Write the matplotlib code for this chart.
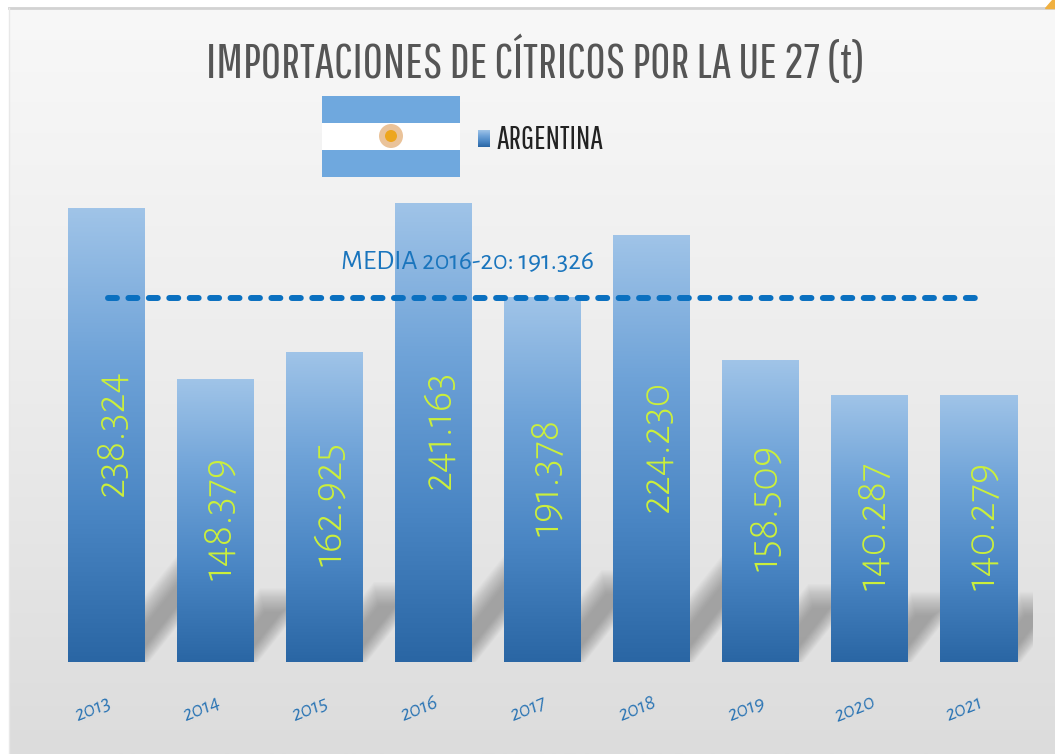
import numpy as np
import matplotlib
matplotlib.use("Agg")
import matplotlib.pyplot as plt
from matplotlib.colors import LinearSegmentedColormap
from matplotlib.patches import Polygon, Rectangle, Circle
from matplotlib.transforms import ScaledTranslation

years = ['2013', '2014', '2015', '2016', '2017', '2018', '2019', '2020', '2021']
values = [238324, 148379, 162925, 241163, 191378, 224230, 158509, 140287, 140279]
labels = ['238.324', '148.379', '162.925', '241.163', '191.378', '224.230', '158.509', '140.287', '140.279']
media = 191326
media_label = 'MEDIA 2016-20: 191.326'
title = 'IMPORTACIONES DE CÍTRICOS POR LA UE 27 (t)'
serie = 'ARGENTINA'

W, H = 1055, 754
fuente = ['Alegreya Sans', 'Lato', 'DejaVu Sans']
estrecha = ['Pathway Gothic One', 'Fira Sans Extra Condensed', 'Alegreya Sans', 'Lato', 'DejaVu Sans']

fig = plt.figure(figsize=(W / 100, H / 100), dpi=100, facecolor='white')

# whole figure in pixel coords, for the backdrop, flag and legend
bg = fig.add_axes([0, 0, 1, 1], zorder=0)
bg.axis('off')
grad = np.linspace(0, 1, 256).reshape(-1, 1)
bg_cmap = LinearSegmentedColormap.from_list('bg', ['#f8f8f8', '#ececec', '#dcdcdc'])
bg.imshow(grad, extent=[9, W, H, 8], cmap=bg_cmap, aspect='auto', zorder=0)
bg.plot([9, W], [8, 8], color='#d2d2d2', lw=2, zorder=1)
bg.plot([9, 9], [8, H], color='#e8e8e8', lw=1, zorder=1)
bg.add_patch(Polygon([[1045, 8], [W, 8], [W, 0], [1052, 0]], color='#f0b040', zorder=1))
bg.set_xlim(0, W)
bg.set_ylim(H, 0)

# chart axes: 0 sits at y=662 px, one category is 109 px
px_per_t = 454 / 238324
top_val = 260000
ax_h = top_val * px_per_t
ax = fig.add_axes([52 / W, (H - 662) / H, 981 / W, ax_h / H], zorder=1)
ax.patch.set_alpha(0)
for s in ax.spines.values():
    s.set_visible(False)
ax.set_xlim(-0.5, 8.5)
ax.set_ylim(0, top_val)

x = np.arange(len(years))
bar_w = 77 / 109
px_x = 1 / 109
px_y = 1 / px_per_t

# blurred slanted shadows behind each bar, narrower than the bar itself
for xi, v in zip(x, values):
    h = v * 0.225
    skew = 0.8 * px_per_t * px_x
    x0, x1 = xi - bar_w / 2 + 24 * px_x, xi + bar_w / 2 + 4 * px_x
    for d in np.linspace(0, 24, 20):
        top = h + (10 - d) * px_y
        shift = top * skew
        pts = [[x0 + d * px_x, 0], [x1 - d * 0.7 * px_x, 0],
               [x1 - d * 0.7 * px_x + shift, top], [x0 + d * px_x + shift, top]]
        ax.add_patch(Polygon(pts, closed=True, color='#6a6a6a', alpha=0.03, lw=0, zorder=1))

bars = ax.bar(x, values, width=bar_w, facecolor='none', edgecolor='none', zorder=2)
bar_cmap = LinearSegmentedColormap.from_list('bar', ['#2a66a4', '#4a86c4', '#6fa3d8', '#a0c4e8'])
for b in bars:
    im = ax.imshow(grad[::-1], extent=[b.get_x(), b.get_x() + b.get_width(), 0, b.get_height()],
                   cmap=bar_cmap, aspect='auto', zorder=2)
    im.set_clip_path(b)
ax.set_xlim(-0.5, 8.5)
ax.set_ylim(0, top_val)

textos = ax.bar_label(bars, labels=labels, label_type='center', rotation=90, color='#ccf03a',
                      fontsize=32, family=fuente, fontweight=300, zorder=4)
for t in textos:
    t.xyann = (3, 2)

ax.plot([0.014, 8.004], [media, media], color='#0a70c0', lw=4.3, ls=(0, (1.5, 1.92)),
        dash_capstyle='round', zorder=3)
ax.text(3.316, media + 19000, media_label, color='#1a75bd', fontsize=20, family=fuente,
        ha='center', va='center', zorder=4)

ax.set_xticks(x)
ax.set_xticklabels(years, rotation=22, color='#2a74b4', fontsize=15.5, style='italic',
                   family=fuente)
ax.tick_params(axis='x', length=0, pad=22)
ax.set_yticks([])
desplaza = ScaledTranslation(-14 / 100, 0, fig.dpi_scale_trans)
for t in ax.get_xticklabels():
    t.set_transform(t.get_transform() + desplaza)

fig.text(535 / W, 1 - 62 / H, title, color='#555555', fontsize=35.5, family=estrecha,
         ha='center', va='center', zorder=5)

# flag next to the legend
over = fig.add_axes([0, 0, 1, 1], zorder=2)
over.axis('off')
over.add_patch(Rectangle((322, 96), 138, 81, color='#6fa8de', lw=0))
over.add_patch(Rectangle((322, 123), 138, 27, color='white', lw=0))
over.add_patch(Circle((391, 136), 12, color='#eac39a', lw=0))
over.add_patch(Circle((391, 136), 6, color='#eda61e', lw=0))

# legend swatch and text
over.imshow(grad[::-1], extent=[478, 490, 147, 130], cmap=bar_cmap, aspect='auto')
over.set_xlim(0, W)
over.set_ylim(H, 0)
over.text(496, 140, serie, color='#222222', fontsize=23, family=estrecha,
          ha='left', va='center')

fig.savefig('out.png', dpi=100)
